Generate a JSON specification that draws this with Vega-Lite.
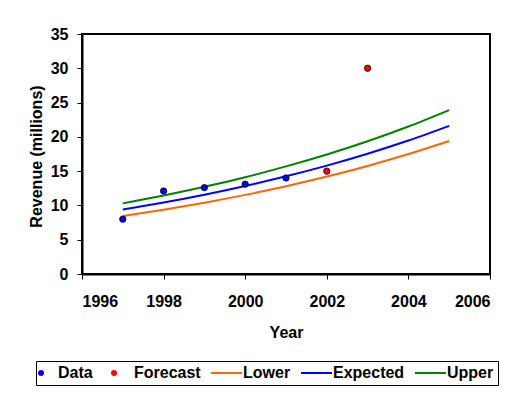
{
  "$schema": "https://vega.github.io/schema/vega-lite/v6.json",
  "width": 408,
  "height": 240,
  "autosize": "none",
  "padding": {"left": 82, "top": 34, "right": 40, "bottom": 122},
  "background": "white",
  "config": {
    "view": {"stroke": "black", "strokeWidth": 2},
    "font": "Liberation Sans",
    "axis": {
      "labelFont": "Liberation Sans", "labelFontSize": 16, "labelFontWeight": "bold", "labelColor": "black",
      "titleFont": "Liberation Sans", "titleFontSize": 16, "titleFontWeight": "bold", "titleColor": "black",
      "domainColor": "black", "domainWidth": 2, "tickColor": "black", "tickSize": 5, "tickWidth": 1, "grid": false
    }
  },
  "data": {"values": [
    {"year": 1997, "value": 8.45, "series": "Lower"},
    {"year": 1998, "value": 9.37, "series": "Lower"},
    {"year": 1999, "value": 10.4, "series": "Lower"},
    {"year": 2000, "value": 11.54, "series": "Lower"},
    {"year": 2001, "value": 12.81, "series": "Lower"},
    {"year": 2002, "value": 14.21, "series": "Lower"},
    {"year": 2003, "value": 15.76, "series": "Lower"},
    {"year": 2004, "value": 17.49, "series": "Lower"},
    {"year": 2005, "value": 19.4, "series": "Lower"},
    {"year": 1997, "value": 9.4, "series": "Expected"},
    {"year": 1998, "value": 10.43, "series": "Expected"},
    {"year": 1999, "value": 11.57, "series": "Expected"},
    {"year": 2000, "value": 12.84, "series": "Expected"},
    {"year": 2001, "value": 14.25, "series": "Expected"},
    {"year": 2002, "value": 15.81, "series": "Expected"},
    {"year": 2003, "value": 17.54, "series": "Expected"},
    {"year": 2004, "value": 19.46, "series": "Expected"},
    {"year": 2005, "value": 21.6, "series": "Expected"},
    {"year": 1997, "value": 10.3, "series": "Upper"},
    {"year": 1998, "value": 11.44, "series": "Upper"},
    {"year": 1999, "value": 12.71, "series": "Upper"},
    {"year": 2000, "value": 14.12, "series": "Upper"},
    {"year": 2001, "value": 15.69, "series": "Upper"},
    {"year": 2002, "value": 17.43, "series": "Upper"},
    {"year": 2003, "value": 19.36, "series": "Upper"},
    {"year": 2004, "value": 21.51, "series": "Upper"},
    {"year": 2005, "value": 23.9, "series": "Upper"},
    {"year": 1997, "value": 8.0, "series": "Data"},
    {"year": 1998, "value": 12.1, "series": "Data"},
    {"year": 1999, "value": 12.6, "series": "Data"},
    {"year": 2000, "value": 13.1, "series": "Data"},
    {"year": 2001, "value": 14.0, "series": "Data"},
    {"year": 2002, "value": 15.0, "series": "Forecast"},
    {"year": 2003, "value": 30.0, "series": "Forecast"}
  ]},
  "encoding": {
    "x": {
      "field": "year", "type": "quantitative",
      "scale": {"domain": [1996, 2006], "nice": false, "zero": false},
      "axis": {"values": [1996, 1998, 2000, 2002, 2004, 2006], "format": "d", "title": "Year",
               "labelPadding": 27, "labelBaseline": "alphabetic", "titleY": 63, "titleBaseline": "alphabetic"}
    },
    "y": {
      "field": "value", "type": "quantitative",
      "scale": {"domain": [0, 35], "nice": false},
      "axis": {"values": [0, 5, 10, 15, 20, 25, 30, 35], "title": "Revenue (millions)",
               "labelPadding": 9, "titleX": -41, "titleY": 122, "titleAngle": 270, "titleBaseline": "alphabetic", "titleAlign": "center"}
    },
    "color": {
      "field": "series", "type": "nominal",
      "scale": {"domain": ["Data", "Forecast", "Lower", "Expected", "Upper"],
                "range": ["#0000FF", "#FF0000", "#FF6600", "#0000FF", "#008000"]},
      "legend": {
        "title": null, "orient": "none", "legendX": -46, "legendY": 327,
        "direction": "horizontal", "columns": 5, "columnPadding": 6, "padding": 4,
        "strokeColor": "black",
        "labelFont": "Liberation Sans", "labelFontSize": 16, "labelFontWeight": "bold", "labelColor": "black",
        "encode": {
          "symbols": {"update": {
            "shape": {"signal": "(datum.value==='Data'||datum.value==='Forecast') ? 'circle' : 'stroke'"},
            "size": {"signal": "(datum.value==='Data'||datum.value==='Forecast') ? 36 : 961"},
            "fill": {"signal": "datum.value==='Data' ? '#0000FF' : (datum.value==='Forecast' ? '#FF0000' : 'transparent')"},
            "stroke": {"signal": "datum.value==='Data' ? '#0000FF' : datum.value==='Forecast' ? '#FF0000' : datum.value==='Lower' ? '#FF6600' : datum.value==='Expected' ? '#0000FF' : '#008000'"},
            "strokeWidth": {"signal": "(datum.value==='Data'||datum.value==='Forecast') ? 0 : 2"},
            "x": {"signal": "datum.value==='Data' ? 1 : (datum.value==='Forecast' ? 15 : 15.5)"},
            "opacity": {"value": 1}
          }},
          "labels": {"update": {
            "x": {"signal": "datum.value==='Data' ? 18 : (datum.value==='Forecast' ? 35 : 32)"}
          }}
        }
      }
    }
  },
  "layer": [
    {
      "transform": [{"filter": "datum.series==='Lower'||datum.series==='Expected'||datum.series==='Upper'"}],
      "mark": {"type": "line", "strokeWidth": 2, "interpolate": "monotone"}
    },
    {
      "transform": [{"filter": "datum.series==='Data'||datum.series==='Forecast'"}],
      "mark": {"type": "point", "filled": true, "opacity": 1, "size": 40, "stroke": "black", "strokeWidth": 0.8}
    }
  ]
}
